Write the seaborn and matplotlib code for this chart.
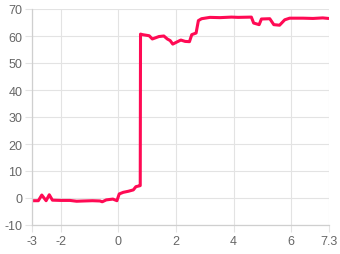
import matplotlib
matplotlib.use("Agg")
import matplotlib.pyplot as plt
import seaborn as sns
import pandas as pd

x_vals = [-3.0, -2.78, -2.66, -2.51, -2.40, -2.29, -2.0, -1.68, -1.45, -1.2, -0.9,
          -0.64, -0.56, -0.42, -0.19, -0.05, 0.03, 0.17, 0.35, 0.52, 0.61, 0.73,
          0.76, 0.77, 0.84, 1.07, 1.18, 1.41, 1.58, 1.70, 1.80, 1.89, 2.0, 2.17,
          2.32, 2.47, 2.55, 2.70, 2.78, 2.89, 3.18, 3.53, 3.93, 4.16, 4.62, 4.70,
          4.89, 4.97, 5.26, 5.40, 5.60, 5.78, 5.95, 6.41, 6.76, 7.1, 7.3]
y_vals = [-1.0, -1.0, 1.1, -1.0, 1.2, -0.8, -0.9, -0.9, -1.2, -1.1, -1.0,
          -1.1, -1.4, -0.7, -0.4, -1.0, 1.5, 2.1, 2.5, 3.0, 4.2, 4.5,
          4.6, 60.7, 60.5, 60.1, 58.9, 59.8, 60.0, 58.9, 58.3, 57.0, 57.6, 58.5,
          58.0, 57.9, 60.5, 61.1, 65.7, 66.4, 66.9, 66.8, 67.0, 66.9, 67.0, 64.8,
          64.2, 66.3, 66.4, 64.2, 64.0, 66.0, 66.6, 66.6, 66.5, 66.7, 66.5]
x_ticks = [-3, -2, 0, 2, 4, 6, 7.3]
x_tick_labels = ["-3", "-2", "0", "2", "4", "6", "7.3"]
y_ticks = [-10, 0, 10, 20, 30, 40, 50, 60, 70]

df = pd.DataFrame({"x": x_vals, "y": y_vals})

sns.set_style("white")
plt.rcParams["font.family"] = ["Liberation Sans", "DejaVu Sans"]
plt.rcParams["axes.unicode_minus"] = False

fig = plt.figure(figsize=(3.4, 2.55), dpi=100)
ax = fig.add_axes([32 / 340, 29 / 255, 296.5 / 340, 216 / 255])

sns.lineplot(data=df, x="x", y="y", ax=ax, color="#ff0a54", linewidth=2.2,
             sort=False, estimator=None, solid_joinstyle="round",
             solid_capstyle="round")

ax.set_xlim(-3, 7.3)
ax.set_ylim(-10, 70)
ax.set_xticks(x_ticks)
ax.set_xticklabels(x_tick_labels)
ax.set_yticks(y_ticks)
ax.grid(True, color="#e3e3e3", linewidth=0.8)
ax.set_axisbelow(True)
ax.set_xlabel("")
ax.set_ylabel("")
for s in ["top", "right"]:
    ax.spines[s].set_visible(False)
for s in ["left", "bottom"]:
    ax.spines[s].set_color("#cfcfcf")
    ax.spines[s].set_linewidth(0.9)
ax.tick_params(axis="both", length=5, width=0.8, color="#e3e3e3",
               labelcolor="#666666", labelsize=9, pad=2)
ax.tick_params(axis="x", bottom=True)
ax.tick_params(axis="y", left=True)

fig.savefig("out.png", dpi=100)
